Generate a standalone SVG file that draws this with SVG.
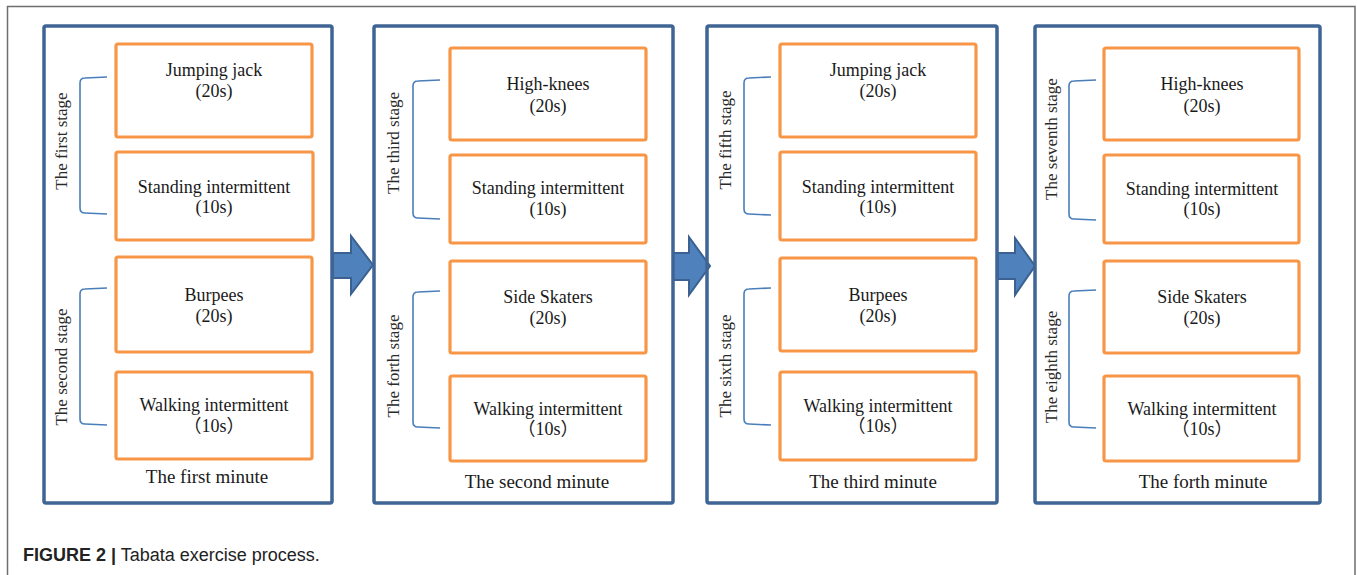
<svg xmlns="http://www.w3.org/2000/svg" width="1357" height="575" viewBox="0 0 1357 575">
<style>
.frame{fill:none;stroke:#6e6e6e;stroke-width:1.5}
.panel{fill:none;stroke:#3f6595;stroke-width:3.5}
.box{fill:#fff;stroke:#f79646;stroke-width:3.2}
.br{fill:none;stroke:#4a7ebb;stroke-width:1.6}
.arrow{fill:#4f81bd;stroke:#3a6190;stroke-width:2;stroke-linejoin:miter}
.t{font-family:"Liberation Serif","Times New Roman","Noto Sans CJK SC",serif;font-size:18px;fill:#1a1a1a;text-anchor:middle}
.m{font-family:"Liberation Serif","Times New Roman",serif;font-size:19px;fill:#1a1a1a;text-anchor:middle}
.s{font-family:"Liberation Serif","Times New Roman",serif;font-size:17px;fill:#2a2a2a;text-anchor:middle}
.cap{font-family:"Liberation Sans",Arial,sans-serif;font-size:18px;fill:#222}
</style>
<rect width="1357" height="575" fill="#fff"/>
<path class="frame" d="M7.5,575 V6.5 H1355 V575"/>
<g id="connectors">
<path class="arrow" d="M333,253 H351 V236 L373,265 L351,294 V278 H333 Z"/>
<path class="arrow" d="M673,253 H689 V237 L710,266 L689,295 V280 H673 Z"/>
<path class="arrow" d="M998,253 H1015 V238 L1035,266 L1015,295 V279 H998 Z"/>
</g>
<g id="minute1">
<rect class="panel" x="44" y="26" width="288" height="477" rx="2"/>
<path class="br" d="M107,77 L85,78 Q80,78 80,83 V208 Q80,213 85,213 L107,214"/>
<path class="br" d="M107,288 L85,289 Q80,289 80,294 V419 Q80,424 85,424 L107,425"/>
<text class="s" transform="translate(67,141) rotate(-90)">The first stage</text>
<text class="s" transform="translate(67,367) rotate(-90)">The second stage</text>
<g id="m1b1"><rect class="box" x="116" y="44" width="196" height="93" rx="2"/><text class="t" x="214" y="76">Jumping jack</text><text class="t" x="214" y="97">(20s)</text></g>
<g id="m1b2"><rect class="box" x="116" y="152" width="197" height="88" rx="2"/><text class="t" x="214" y="193">Standing intermittent</text><text class="t" x="214" y="213">(10s)</text></g>
<g id="m1b3"><rect class="box" x="116" y="257" width="196" height="95" rx="2"/><text class="t" x="214" y="301">Burpees</text><text class="t" x="214" y="322">(20s)</text></g>
<g id="m1b4"><rect class="box" x="116" y="372" width="196" height="87" rx="2"/><text class="t" x="214" y="411">Walking intermittent</text><text class="t" x="214" y="432">（10s）</text></g>
<text class="m" x="207" y="483">The first minute</text>
</g>
<g id="minute2">
<rect class="panel" x="374" y="26" width="299" height="477" rx="2"/>
<path class="br" d="M440,80 L418,81 Q413,81 413,86 V213 Q413,218 418,218 L440,219"/>
<path class="br" d="M440,291 L418,292 Q413,292 413,297 V422 Q413,427 418,427 L440,428"/>
<text class="s" transform="translate(399,143) rotate(-90)">The third stage</text>
<text class="s" transform="translate(399,366) rotate(-90)">The forth stage</text>
<g id="m2b1"><rect class="box" x="450" y="48" width="196" height="92" rx="2"/><text class="t" x="548" y="90">High-knees</text><text class="t" x="548" y="112">(20s)</text></g>
<g id="m2b2"><rect class="box" x="450" y="155" width="196" height="88" rx="2"/><text class="t" x="548" y="194">Standing intermittent</text><text class="t" x="548" y="215">(10s)</text></g>
<g id="m2b3"><rect class="box" x="450" y="261" width="196" height="92" rx="2"/><text class="t" x="548" y="303">Side Skaters</text><text class="t" x="548" y="324">(20s)</text></g>
<g id="m2b4"><rect class="box" x="450" y="376" width="196" height="85" rx="2"/><text class="t" x="548" y="415">Walking intermittent</text><text class="t" x="548" y="435">（10s）</text></g>
<text class="m" x="537" y="488">The second minute</text>
</g>
<g id="minute3">
<rect class="panel" x="707" y="26" width="290" height="477" rx="2"/>
<path class="br" d="M771,77 L749,78 Q744,78 744,83 V209 Q744,214 749,214 L771,215"/>
<path class="br" d="M771,288 L749,289 Q744,289 744,294 V419 Q744,424 749,424 L771,425"/>
<text class="s" transform="translate(731,140) rotate(-90)">The fifth stage</text>
<text class="s" transform="translate(731,366) rotate(-90)">The sixth stage</text>
<g id="m3b1"><rect class="box" x="780" y="44" width="196" height="93" rx="2"/><text class="t" x="878" y="76">Jumping jack</text><text class="t" x="878" y="97">(20s)</text></g>
<g id="m3b2"><rect class="box" x="780" y="152" width="196" height="88" rx="2"/><text class="t" x="878" y="193">Standing intermittent</text><text class="t" x="878" y="213">(10s)</text></g>
<g id="m3b3"><rect class="box" x="780" y="258" width="196" height="93" rx="2"/><text class="t" x="878" y="301">Burpees</text><text class="t" x="878" y="322">(20s)</text></g>
<g id="m3b4"><rect class="box" x="780" y="372" width="196" height="88" rx="2"/><text class="t" x="878" y="412">Walking intermittent</text><text class="t" x="878" y="432">（10s）</text></g>
<text class="m" x="873" y="488">The third minute</text>
</g>
<g id="minute4">
<rect class="panel" x="1035" y="26" width="285" height="477" rx="2"/>
<path class="br" d="M1096,80 L1074,81 Q1069,81 1069,86 V214 Q1069,219 1074,219 L1096,220"/>
<path class="br" d="M1096,290 L1074,291 Q1069,291 1069,296 V422 Q1069,427 1074,427 L1096,428"/>
<text class="s" transform="translate(1057,139) rotate(-90)">The seventh stage</text>
<text class="s" transform="translate(1057,367) rotate(-90)">The eighth stage</text>
<g id="m4b1"><rect class="box" x="1104" y="48" width="195" height="92" rx="2"/><text class="t" x="1202" y="90">High-knees</text><text class="t" x="1202" y="112">(20s)</text></g>
<g id="m4b2"><rect class="box" x="1104" y="155" width="195" height="88" rx="2"/><text class="t" x="1202" y="195">Standing intermittent</text><text class="t" x="1202" y="215">(10s)</text></g>
<g id="m4b3"><rect class="box" x="1104" y="261" width="195" height="92" rx="2"/><text class="t" x="1202" y="303">Side Skaters</text><text class="t" x="1202" y="324">(20s)</text></g>
<g id="m4b4"><rect class="box" x="1104" y="376" width="195" height="85" rx="2"/><text class="t" x="1202" y="415">Walking intermittent</text><text class="t" x="1202" y="435">（10s）</text></g>
<text class="m" x="1203" y="488">The forth minute</text>
</g>
<text class="cap" x="23" y="561"><tspan font-weight="bold">FIGURE 2 |</tspan> Tabata exercise process.</text>
</svg>
